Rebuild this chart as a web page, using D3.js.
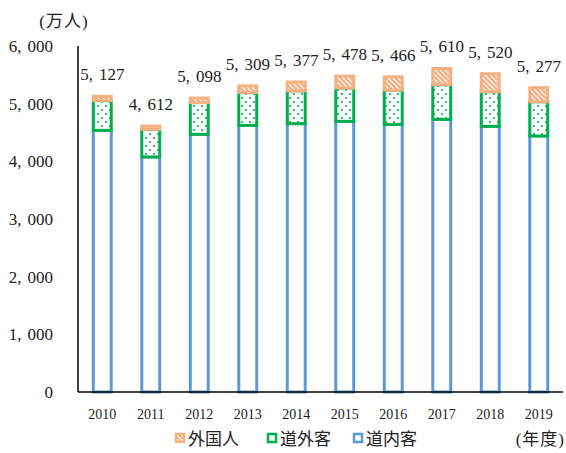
<!DOCTYPE html>
<html>
<head>
<meta charset="utf-8">
<script src="https://cdn.jsdelivr.net/npm/d3@7"></script>
<style>
  body { margin: 0; background: #fff; }
  text { font-family: "Liberation Serif", "Noto Sans CJK JP", serif; fill: #222; }
</style>
</head>
<body>
<div id="chart"></div>
<script>
// 年度
var years = ["2010","2011","2012","2013","2014","2015","2016","2017","2018","2019"];
// 道内客 / 道外客 / 外国人 (万人)
var doNai   = [4537, 4076, 4468, 4624, 4653, 4693, 4641, 4728, 4607, 4440];
var doGai   = [516, 479, 551, 570, 570, 577, 595, 603, 601, 593];
var gaikoku = [74, 57, 79, 115, 154, 208, 230, 279, 312, 244];
var yTicks  = [0, 1000, 2000, 3000, 4000, 5000, 6000];
var seriesNames = ["外国人", "道外客", "道内客"];

var width = 566, height = 453;
// plot area (note: "top" is reserved on window, so use other names)
var pLeft = 78, pRight = 563, pTop = 46, pBottom = 392;

var svg = d3.select("#chart").append("svg").attr("width", width).attr("height", height);

// patterns
var defs = svg.append("defs");
var dots = defs.append("pattern").attr("id","dots").attr("patternUnits","userSpaceOnUse")
  .attr("width", 8).attr("height", 8);
dots.append("rect").attr("width",8).attr("height",8).attr("fill","#fff");
dots.append("circle").attr("cx",2).attr("cy",2).attr("r",1.1).attr("fill","#00B050");
dots.append("circle").attr("cx",6).attr("cy",6).attr("r",1.1).attr("fill","#00B050");

var hatch = defs.append("pattern").attr("id","hatch").attr("patternUnits","userSpaceOnUse")
  .attr("width", 5).attr("height", 5);
hatch.append("rect").attr("width",5).attr("height",5).attr("fill","#F4B183");
hatch.append("path").attr("d","M-1,-1 L6,6 M-1,4 L1,6 M4,-1 L6,1")
  .attr("stroke","#fff").attr("stroke-width",1.2);

var x = d3.scaleBand().domain(years).range([pLeft, pRight]).paddingInner(0.63).paddingOuter(0.315);
var y = d3.scaleLinear().domain([0, 6000]).range([pBottom, pTop]);

var rows = years.map(function(yr, i) {
  return {year: yr, "道内客": doNai[i], "道外客": doGai[i], "外国人": gaikoku[i],
          total: doNai[i] + doGai[i] + gaikoku[i]};
});
var stack = d3.stack().keys(["道内客", "道外客", "外国人"])(rows);
var strokeCol = {"道内客": "#5B9BD5", "道外客": "#00B050", "外国人": "#F4B183"};
var fillCol = {"道内客": "#fff", "道外客": "url(#dots)", "外国人": "url(#hatch)"};

// y axis line
svg.append("line").attr("x1", pLeft).attr("x2", pLeft).attr("y1", pTop).attr("y2", pBottom)
  .attr("stroke","#000").attr("stroke-width",1.5);

// bars
svg.selectAll("g.series").data(stack).enter().append("g").attr("class","series")
  .each(function(s) {
    d3.select(this).selectAll("rect").data(s).enter().append("rect")
      .attr("x", function(d) { return x(d.data.year); })
      .attr("y", function(d) { return y(d[1]); })
      .attr("width", x.bandwidth())
      .attr("height", function(d) { return y(d[0]) - y(d[1]); })
      .attr("fill", fillCol[s.key])
      .attr("stroke", strokeCol[s.key])
      .attr("stroke-width", 3);
  });

// x axis line on top of bar bottoms
svg.append("line").attr("x1", pLeft).attr("x2", pRight).attr("y1", pBottom).attr("y2", pBottom)
  .attr("stroke","#000").attr("stroke-width",1.5);

// "5,127" with the wide comma gap of the original font
function commaText(sel, v) {
  var s = d3.format(",")(v).split(",");
  sel.text(null);
  if (s.length < 2) { sel.text(s[0]); return; }
  sel.append("tspan").text(s[0] + ",");
  sel.append("tspan").attr("dx", 6).text(s[1]);
}

// total labels
svg.selectAll("text.total").data(rows).enter().append("text").attr("class","total")
  .attr("x", function(d) { return x(d.year) + x.bandwidth()/2; })
  .attr("y", function(d) { return y(d.total) - 16; })
  .attr("text-anchor","middle").attr("font-size","17px")
  .each(function(d) { commaText(d3.select(this), d.total); });

// y tick labels
svg.selectAll("text.ytick").data(yTicks).enter().append("text").attr("class","ytick")
  .attr("x", 53).attr("y", function(d) { return y(d) + 6; })
  .attr("text-anchor","end").attr("font-size","17px")
  .each(function(d) { commaText(d3.select(this), d); });

// x labels
svg.selectAll("text.xtick").data(years).enter().append("text").attr("class","xtick")
  .attr("x", function(d) { return x(d) + x.bandwidth()/2; })
  .attr("y", 419).attr("text-anchor","middle").attr("font-size","14px")
  .text(function(d) { return d; });

// unit labels
svg.append("text").attr("x", 64).attr("y", 27).attr("text-anchor","middle")
  .attr("font-size","17px").attr("letter-spacing","1px").text("(万人)");
svg.append("text").attr("x", 565).attr("y", 445).attr("text-anchor","end")
  .attr("font-size","17px").attr("letter-spacing","1px").text("(年度)");

// legend
var legX = [175, 267, 353];
var lg = svg.selectAll("g.leg").data(seriesNames).enter().append("g").attr("class","leg")
  .attr("transform", function(d, i) { return "translate(" + legX[i] + ",433)"; });
lg.append("rect").attr("x",1).attr("y",1).attr("width",8).attr("height",8)
  .attr("fill", function(d) { return d == "外国人" ? "url(#hatch)" : "#fff"; })
  .attr("stroke", function(d) { return strokeCol[d]; }).attr("stroke-width",2.5);
lg.append("text").attr("x", 13).attr("y", 12).attr("font-size","17px")
  .text(function(d) { return d; });
</script>
</body>
</html>
